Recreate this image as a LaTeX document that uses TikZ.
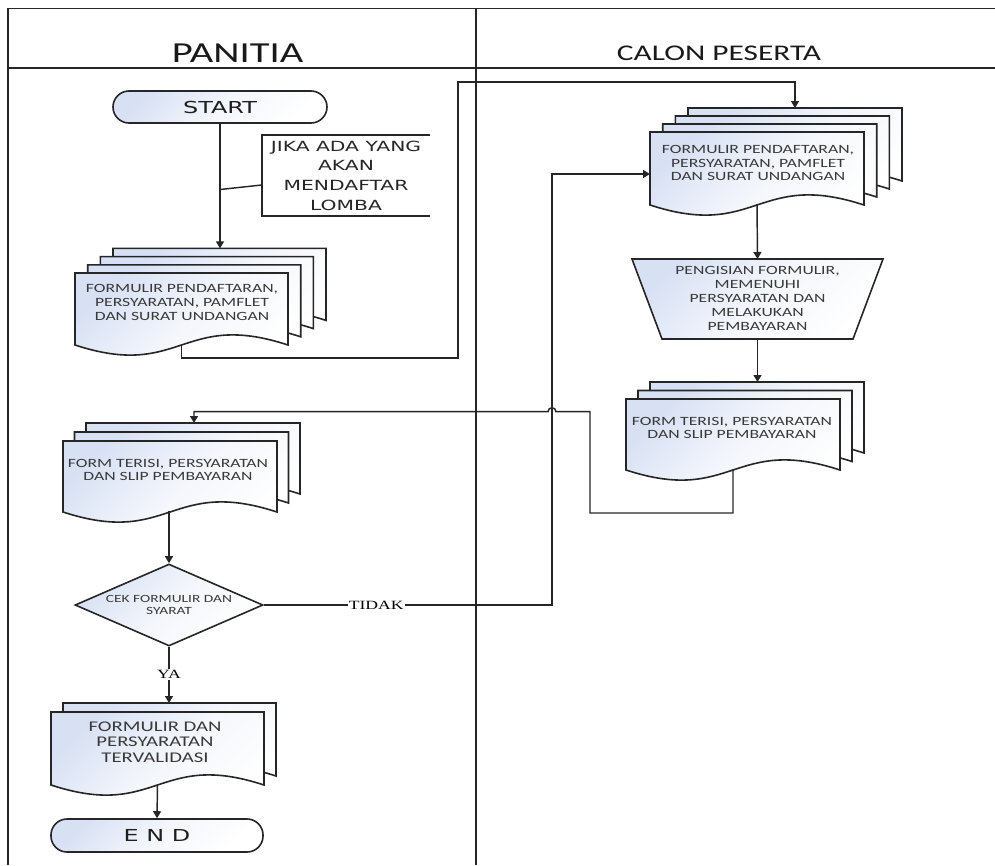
\documentclass[tikz,border=0pt]{standalone}
\usepackage{fontspec}
\setmainfont{Carlito}[FakeStretch=1.4]
\newfontfamily\termfont{DejaVu Sans}[FakeStretch=1.45]
\newfontfamily\labelfont{Liberation Serif}[FakeStretch=1.4]
\usetikzlibrary{arrows.meta,shapes.geometric}

\definecolor{ink}{HTML}{262626}
\definecolor{paleblue}{RGB}{216,225,244}
\definecolor{doctext}{HTML}{3A3A3A}

% shapes: pale blue in the upper left corner, fading to white
\tikzset{
  frame/.style={draw=ink, line width=1.5pt},
  link/.style={draw=ink, line width=1.45pt},
  arrowlink/.style={link, -{Triangle[length=7pt,width=8pt]}},
  shapebody/.style={draw=ink, line width=1.6pt, top color=paleblue, bottom color=white,
    middle color=white!70!paleblue, shading angle=45},
  header/.style={text=black!90, inner sep=0pt},
  doclabel/.style={text=doctext, align=center, inner sep=0pt, font=\fontsize{12.6}{13.6}\selectfont},
  terminal/.style={shapebody, rounded corners=16pt, inner sep=0pt, text=black!88,
    font=\termfont\fontsize{16.5}{20}\selectfont},
  decision/.style={shapebody, diamond, aspect=2.3, inner sep=0pt, align=center, text=doctext,
    minimum width=188pt, minimum height=82pt, font=\fontsize{11}{12.2}\selectfont},
  notebox/.style={inner sep=0pt, minimum width=168pt, minimum height=81pt, align=center,
    text=black!85, font=\termfont\fontsize{14}{19.7}\selectfont},
  edgelabel/.style={fill=white, inner sep=1pt, text=black, font=\labelfont\fontsize{12.6}{14}\selectfont}
}

% one sheet of a document symbol: left, top, width, height at the corners
\newcommand\docpage[4]{%
  \begin{scope}[shift={(#1,#2)}]
    \path[shapebody] (0,0) -- (#3,0) -- (#3,#4)
      .. controls (#3/2,#4-35) and (#3/2,#4+35) .. (0,#4) -- cycle;
  \end{scope}}

\begin{document}
\begin{tikzpicture}[x=1pt,y=-1pt]
\useasboundingbox (0,0) rectangle (995,865);

% swimlanes
\draw[frame] (8,865) -- (8,8.5) -- (995,8.5);
\draw[frame] (8,68) -- (995,68);
\draw[frame] (476,8.5) -- (476,865);
\node[header, anchor=base, font=\fontsize{29}{34}\selectfont] (laneA) at (237.5,62) {PANITIA};
\node[header, anchor=base, font=\fontsize{22.4}{27}\selectfont] (laneB) at (719,60) {CALON PESERTA};

% ---------- PANITIA ----------
\node[terminal, minimum width=214pt, minimum height=32pt] (start) at (220,107) {START};

\node[notebox] (note) at (346,175.5) {JIKA ADA YANG\\AKAN\\MENDAFTAR\\LOMBA};
\draw[link] (note.north east) -- (note.north west) -- (note.south west) -- (note.south east);
\coordinate (noteTap) at (220,189.5);
\draw[link] (noteTap) -- ([yshift=-9.5pt]note.west);

% registration documents sent out
\docpage{113}{248.4}{213}{72}
\docpage{100.3}{256.6}{213}{72}
\docpage{87.7}{264.8}{213}{72}
\docpage{75}{273}{213}{72}
\node[doclabel] (formA) at (182,302.5) {FORMULIR PENDAFTARAN,\\PERSYARATAN, PAMFLET\\DAN SURAT UNDANGAN};
\coordinate (inA) at (220,248.4);
\coordinate (outA) at (181.5,344);

% filled-in forms received
\docpage{86}{423}{214}{71}
\docpage{74.5}{432}{214}{71}
\docpage{63}{441}{214}{71}
\node[doclabel] (formD) at (168,470) {FORM TERISI, PERSYARATAN\\DAN SLIP PEMBAYARAN};
\coordinate (inD) at (194,423);
\coordinate (outD) at (169,511);

\node[decision] (cek) at (169,605) {CEK FORMULIR DAN\\SYARAT};

% validated documents
\docpage{63}{703}{213}{73}
\docpage{51}{712}{213}{73}
\node[doclabel, font=\fontsize{14.8}{15.6}\selectfont] (formF) at (155,742) {FORMULIR DAN\\PERSYARATAN\\TERVALIDASI};
\coordinate (inF) at (169,703);
\coordinate (outF) at (157.5,784);

\node[terminal, minimum width=212pt, minimum height=33pt] (stop) at (157,835.5) {E N D};

% ---------- CALON PESERTA ----------
\docpage{688}{108}{214}{73}
\docpage{675.3}{116}{214}{73}
\docpage{662.7}{124}{214}{73}
\docpage{650}{132}{214}{73}
\node[doclabel] (formB) at (758,163) {FORMULIR PENDAFTARAN,\\PERSYARATAN, PAMFLET\\DAN SURAT UNDANGAN};
\coordinate (inB) at (795,108);
\coordinate (inBside) at (650,174);
\coordinate (outB) at (757,204);

\path[shapebody] (632,259) -- (883,259) -- (853,339) -- (662,339) -- cycle;
\node[doclabel, font=\fontsize{12.6}{13.9}\selectfont] (isi) at (757.5,298.5)
  {PENGISIAN FORMULIR,\\MEMENUHI\\PERSYARATAN DAN\\MELAKUKAN\\PEMBAYARAN};
\coordinate (isiIn) at (757.5,259);
\coordinate (isiOut) at (757.5,339);

\docpage{650}{382}{214}{71}
\docpage{638}{390.5}{214}{71}
\docpage{626}{399}{214}{71}
\node[doclabel] (formC) at (732,428) {FORM TERISI, PERSYARATAN\\DAN SLIP PEMBAYARAN};
\coordinate (inC) at (757.5,382);
\coordinate (outC) at (733,469);

% ---------- connectors ----------
\draw[arrowlink] (start.south) -- (inA);
\draw[arrowlink] (outA) -- (181.5,358) -- (458,358) -- (458,82) -- (795,82) -- (inB);
\draw[arrowlink] (outB) -- (isiIn);
\draw[arrowlink] (isiOut) -- (inC);
\draw[arrowlink] (outC) -- (733,513) -- (590,513) -- (590,411.7) -- (556,411.7)
  .. controls (556,406.5) and (548,406.5) .. (548,411.7) -- (194,411.7) -- (inD);
\draw[arrowlink] (outD) -- (cek.north);
\draw[arrowlink] (cek.east) -- node[edgelabel, pos=0.39] {TIDAK} (552,605) -- (552,174) -- (inBside);
\draw[arrowlink] (cek.south) -- node[edgelabel, pos=0.49] {YA} (inF);
\draw[arrowlink] (outF) -- (stop.north);

\end{tikzpicture}
\end{document}
